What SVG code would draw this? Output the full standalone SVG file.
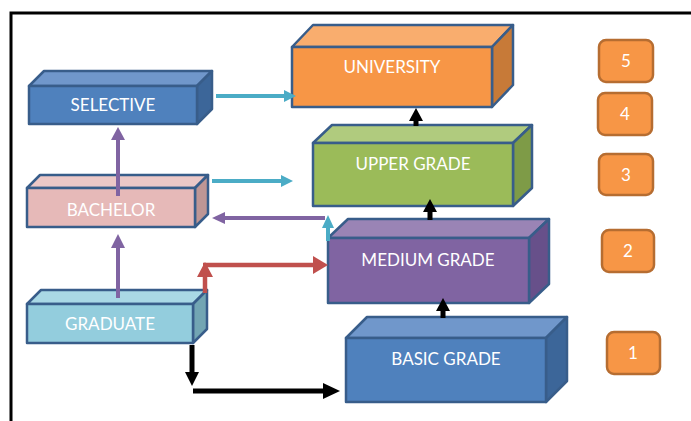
<svg xmlns="http://www.w3.org/2000/svg" width="691" height="421" viewBox="0 0 691 421">
<style>
.edge{stroke:#385D8A;stroke-width:2.5;stroke-linejoin:round}
.lbl{font-family:Lato,"Liberation Sans",sans-serif;font-size:17px;fill:#FFFFFF;text-anchor:middle}
.num{font-family:Lato,"Liberation Sans",sans-serif;font-size:17px;fill:#FFFFFF;text-anchor:middle}
.badge{fill:#F79646;stroke:#B66D31;stroke-width:2.5}
.cy{stroke:#4BACC6;stroke-width:4;fill:none}
.pu{stroke:#8064A2;stroke-width:4;fill:none}
.rd{stroke:#C0504D;stroke-width:4.5;fill:none}
.bk{stroke:#000000;stroke-width:5;fill:none}
</style>
<rect width="691" height="421" fill="#FFFFFF"/>
<path d="M11,421 V13 H691" fill="none" stroke="#000000" stroke-width="3"/>

<g id="university">
<polygon class="edge" fill="#F9AD6E" points="292,47 313,25 513,25 492,47"/>
<polygon class="edge" fill="#C77A38" points="492,47 513,25 513,85 492,107"/>
<rect class="edge" fill="#F79646" x="292" y="47" width="200" height="60"/>
<text class="lbl" x="392" y="73">UNIVERSITY</text>
</g>

<g id="selective">
<polygon class="edge" fill="#7097CB" points="29,86 44,71 212,71 197,86"/>
<polygon class="edge" fill="#3C6699" points="197,86 212,71 212,109 197,124"/>
<rect class="edge" fill="#4F81BD" x="29" y="86" width="168" height="38"/>
<text class="lbl" x="113" y="111">SELECTIVE</text>
</g>

<g id="upper-grade">
<polygon class="edge" fill="#B0CB7E" points="313,143 332,125 532,125 513,143"/>
<polygon class="edge" fill="#7E9B47" points="513,143 532,125 532,188 513,206"/>
<rect class="edge" fill="#9BBB59" x="313" y="143" width="200" height="63"/>
<text class="lbl" x="413" y="170">UPPER GRADE</text>
</g>

<g id="bachelor">
<polygon class="edge" fill="#ECC8C7" points="27,188 40,175 208,175 195,188"/>
<polygon class="edge" fill="#BE9695" points="195,188 208,175 208,214 195,227"/>
<rect class="edge" fill="#E6B9B8" x="27" y="188" width="168" height="39"/>
<text class="lbl" x="111" y="216">BACHELOR</text>
</g>

<g id="medium-grade">
<polygon class="edge" fill="#9A84B5" points="328,238 348,219 549,219 529,238"/>
<polygon class="edge" fill="#67508A" points="529,238 549,219 549,284 529,303"/>
<rect class="edge" fill="#8064A2" x="328" y="238" width="201" height="65"/>
<text class="lbl" x="428" y="266">MEDIUM GRADE</text>
</g>

<g id="graduate">
<polygon class="edge" fill="#A9D8E5" points="27,304 41,290 207,290 193,304"/>
<polygon class="edge" fill="#72A5B3" points="193,304 207,290 207,329 193,343"/>
<rect class="edge" fill="#93CDDD" x="27" y="304" width="166" height="39"/>
<text class="lbl" x="110" y="330">GRADUATE</text>
</g>

<g id="basic-grade">
<polygon class="edge" fill="#7097CB" points="346,338 367,317 567,317 546,338"/>
<polygon class="edge" fill="#3C6699" points="546,338 567,317 567,381 546,402"/>
<rect class="edge" fill="#4F81BD" x="346" y="338" width="200" height="64"/>
<text class="lbl" x="446" y="365">BASIC GRADE</text>
</g>

<g id="level-5"><rect class="badge" x="599" y="40" width="54" height="42" rx="7"/><text class="num" x="626" y="67">5</text></g>
<g id="level-4"><rect class="badge" x="598" y="93" width="54" height="42" rx="7"/><text class="num" x="625" y="120">4</text></g>
<g id="level-3"><rect class="badge" x="599" y="154" width="54" height="41" rx="7"/><text class="num" x="626" y="181">3</text></g>
<g id="level-2"><rect class="badge" x="602" y="230" width="52" height="42" rx="7"/><text class="num" x="628" y="257">2</text></g>
<g id="level-1"><rect class="badge" x="607" y="332" width="53" height="42" rx="7"/><text class="num" x="633" y="359">1</text></g>

<g id="connectors">
<!-- selective -> university -->
<path class="cy" d="M216,96 H285"/>
<polygon fill="#4BACC6" points="296,96 284,90 284,102"/>
<!-- bachelor -> upper grade -->
<path class="cy" d="M212,181 H282"/>
<polygon fill="#4BACC6" points="293,181 281,175 281,187"/>
<!-- upper grade -> bachelor -->
<path class="pu" d="M325,218 H222"/>
<polygon fill="#8064A2" points="212,218 225,212 225,224"/>
<!-- medium -> upper (cyan) -->
<path class="cy" d="M328,241 V226"/>
<polygon fill="#4BACC6" points="328,215 322,228 334,228"/>
<!-- bachelor -> selective -->
<path class="pu" d="M118,196 V137"/>
<polygon fill="#8064A2" points="118,127 111,140 125,140"/>
<!-- graduate -> bachelor -->
<path class="pu" d="M118,298 V246"/>
<polygon fill="#8064A2" points="118,234 111,248 125,248"/>
<!-- graduate -> medium (red) -->
<path class="rd" d="M205,293 V275"/>
<polygon fill="#C0504D" points="205,262 197,277 213,277"/>
<path class="rd" d="M203,265 H315"/>
<polygon fill="#C0504D" points="328,265 313,256 313,274"/>
<!-- graduate -> basic (black) -->
<path class="bk" d="M192,345 V374"/>
<polygon fill="#000000" points="192,386 185,372 199,372"/>
<path class="bk" d="M193,391 H325" stroke-width="6"/>
<polygon fill="#000000" points="340,391 323,383 323,399"/>
<!-- upper -> university -->
<path class="bk" d="M416,126 V119" stroke-width="4"/>
<polygon fill="#000000" points="416,108 409,121 423,121"/>
<!-- medium -> upper -->
<path class="bk" d="M430,220 V210" stroke-width="4"/>
<polygon fill="#000000" points="430,199 423,212 437,212"/>
<!-- basic -> medium -->
<path class="bk" d="M443,318 V308" stroke-width="4"/>
<polygon fill="#000000" points="443,298 436,311 450,311"/>
</g>
</svg>
